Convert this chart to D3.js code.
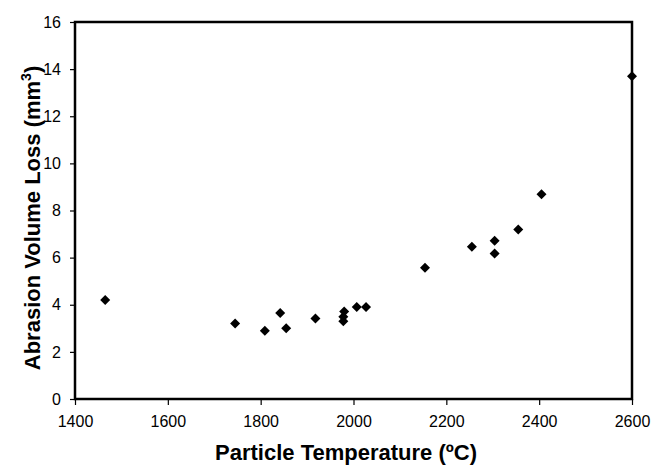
<!DOCTYPE html>
<html lang="en">
<meta charset="utf-8">
<script src="https://d3js.org/d3.v7.min.js"></script>
<style>
  body { margin: 0; background: #fff; }
  .axis text { font: 16px "Liberation Sans", Arial, sans-serif; fill: #000; }
  .title { font: bold 22px "Liberation Sans", Arial, sans-serif; fill: #000; }
</style>
<svg id="base" width="651" height="466"></svg>

<script>
    // particle temperature (C) and abrasion volume loss (mm3)
    var temps = [1465, 1745, 1809, 1842, 1855, 1918, 1980, 1978, 1978, 2007, 2027, 2154, 2255, 2304, 2304, 2355, 2405, 2600];
    var losses = [4.2, 3.2, 2.9, 3.65, 3.0, 3.42, 3.71, 3.49, 3.3, 3.9, 3.9, 5.57, 6.46, 6.72, 6.17, 7.19, 8.69, 13.7];
    var xTicks = [1400, 1600, 1800, 2000, 2200, 2400, 2600];
    var yTicks = [0, 2, 4, 6, 8, 10, 12, 14, 16];

    var plotL = 75, plotR = 632, plotT = 22, plotB = 399;
    var svg = d3.select("#base");

    var x = d3.scaleLinear().domain([1400, 2600]).range([plotL, plotR]);
    var y = d3.scaleLinear().domain([0, 16]).range([plotB, plotT]);

    svg.append("g")
        .attr("class", "axis")
        .attr("transform", "translate(0," + plotB + ")")
        .call(d3.axisBottom(x).tickValues(xTicks).tickFormat(d3.format("d"))
            .tickSize(6).tickSizeOuter(0).tickPadding(11));

    svg.append("g")
        .attr("class", "axis")
        .attr("transform", "translate(" + plotL + ",0)")
        .call(d3.axisLeft(y).tickValues(yTicks).tickFormat(d3.format("d"))
            .tickSize(5).tickSizeOuter(0).tickPadding(9));

    svg.selectAll(".axis .domain").remove();
    svg.selectAll(".axis .tick line").attr("stroke", "#000").attr("stroke-width", 1.2);

    // frame
    svg.append("rect")
        .attr("x", plotL).attr("y", plotT)
        .attr("width", plotR - plotL).attr("height", plotB - plotT)
        .attr("fill", "none").attr("stroke", "#000").attr("stroke-width", 2.5);

    svg.append("g")
        .selectAll("path")
        .data(temps)
        .enter()
        .append("path")
        .attr("d", d3.symbol().type(d3.symbolSquare).size(50))
        .attr("transform", function (d, i) {
            return "translate(" + x(d) + "," + y(losses[i]) + ") rotate(45)";
        })
        .attr("fill", "#000");

    svg.append("text")
        .attr("class", "title")
        .attr("x", 346)
        .attr("y", 460)
        .attr("text-anchor", "middle")
        .text("Particle Temperature (\u00baC)");

    var yt = svg.append("text")
        .attr("class", "title")
        .attr("text-anchor", "middle")
        .attr("transform", "translate(40,218) rotate(-90)");
    yt.append("tspan").text("Abrasion Volume Loss (mm");
    yt.append("tspan").attr("dy", -9).style("font-size", "14px").text("3");
    yt.append("tspan").attr("dy", 9).text(")");
</script>
</html>
